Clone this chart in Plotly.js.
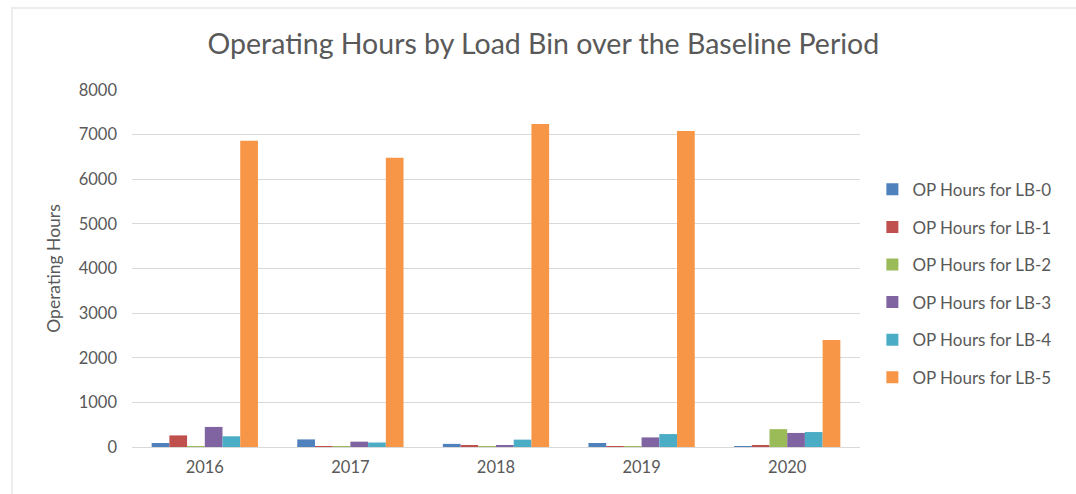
<!DOCTYPE html>
<html>
<head>
<meta charset="utf-8">
<script src="https://cdn.plot.ly/plotly-3.0.1.min.js"></script>
<style>
  html, body { margin: 0; padding: 0; background: #fff; }
  #frame { position: absolute; left: 11px; top: 7px; width: 1100px; height: 520px;
           border-left: 2px solid #ececec; border-top: 2px solid #ececec; }
  #chart { position: absolute; left: 0; top: 0; width: 1076px; height: 494px; }
</style>
</head>
<body>
<div id="frame"></div>
<div id="chart"></div>
<script>
const years = ['2016', '2017', '2018', '2019', '2020'];
const seriesNames = ['OP Hours for LB-0', 'OP Hours for LB-1', 'OP Hours for LB-2',
                     'OP Hours for LB-3', 'OP Hours for LB-4', 'OP Hours for LB-5'];
const lb0 = [90, 170, 70, 90, 20];
const lb1 = [260, 15, 40, 5, 40];
const lb2 = [10, 10, 10, 5, 400];
const lb3 = [450, 120, 40, 215, 315];
const lb4 = [240, 100, 165, 290, 335];
const lb5 = [6860, 6480, 7240, 7080, 2400];
const colors = ['#4F81BD', '#C0504D', '#9BBB59', '#8064A2', '#4BACC6', '#F79646'];

const allSeries = [lb0, lb1, lb2, lb3, lb4, lb5];
const traces = allSeries.map((vals, i) => ({
  type: 'bar',
  name: seriesNames[i],
  x: years,
  y: vals,
  marker: { color: colors[i] },
  legendgroup: 'g' + i,
  hoverinfo: 'x+y+name'
}));

const fontFam = 'Lato, "Open Sans", sans-serif';
const layout = {
  width: 1076,
  height: 494,
  paper_bgcolor: 'rgba(0,0,0,0)',
  plot_bgcolor: 'rgba(0,0,0,0)',
  margin: { l: 132, r: 216, t: 90, b: 47 },
  barmode: 'group',
  bargap: 0.27,
  bargroupgap: 0,
  font: { family: fontFam, color: '#595959', size: 16 },
  title: {
    text: 'Operating Hours by Load Bin over the Baseline Period',
    font: { family: fontFam, size: 28.5, color: '#595959' },
    x: 0.505, xanchor: 'center',
    y: 0.91, yanchor: 'middle', yref: 'container'
  },
  xaxis: {
    type: 'category',
    showgrid: false,
    showline: false,
    ticks: '',
    tickfont: { size: 16.5, color: '#595959' },
    ticklabelstandoff: 8
  },
  yaxis: {
    range: [0, 8000],
    dtick: 1000,
    tick0: 0,
    showgrid: true,
    gridcolor: '#d9d9d9',
    gridwidth: 1,
    zeroline: true,
    zerolinecolor: '#d9d9d9',
    zerolinewidth: 1,
    showline: false,
    ticks: '',
    tickfont: { size: 16.5, color: '#595959' },
    ticklabelstandoff: 14,
    title: {
      text: 'Operating Hours',
      font: { size: 17.5, color: '#595959' },
      standoff: 13
    }
  },
  legend: {
    x: 1.017, xanchor: 'left',
    y: 0.771, yanchor: 'top',
    traceorder: 'grouped',
    tracegroupgap: 12.5,
    font: { size: 17, color: '#595959' },
    bgcolor: 'rgba(0,0,0,0)'
  },
  showlegend: true
};

Plotly.newPlot('chart', traces, layout, { displayModeBar: false, responsive: false });
</script>
</body>
</html>
